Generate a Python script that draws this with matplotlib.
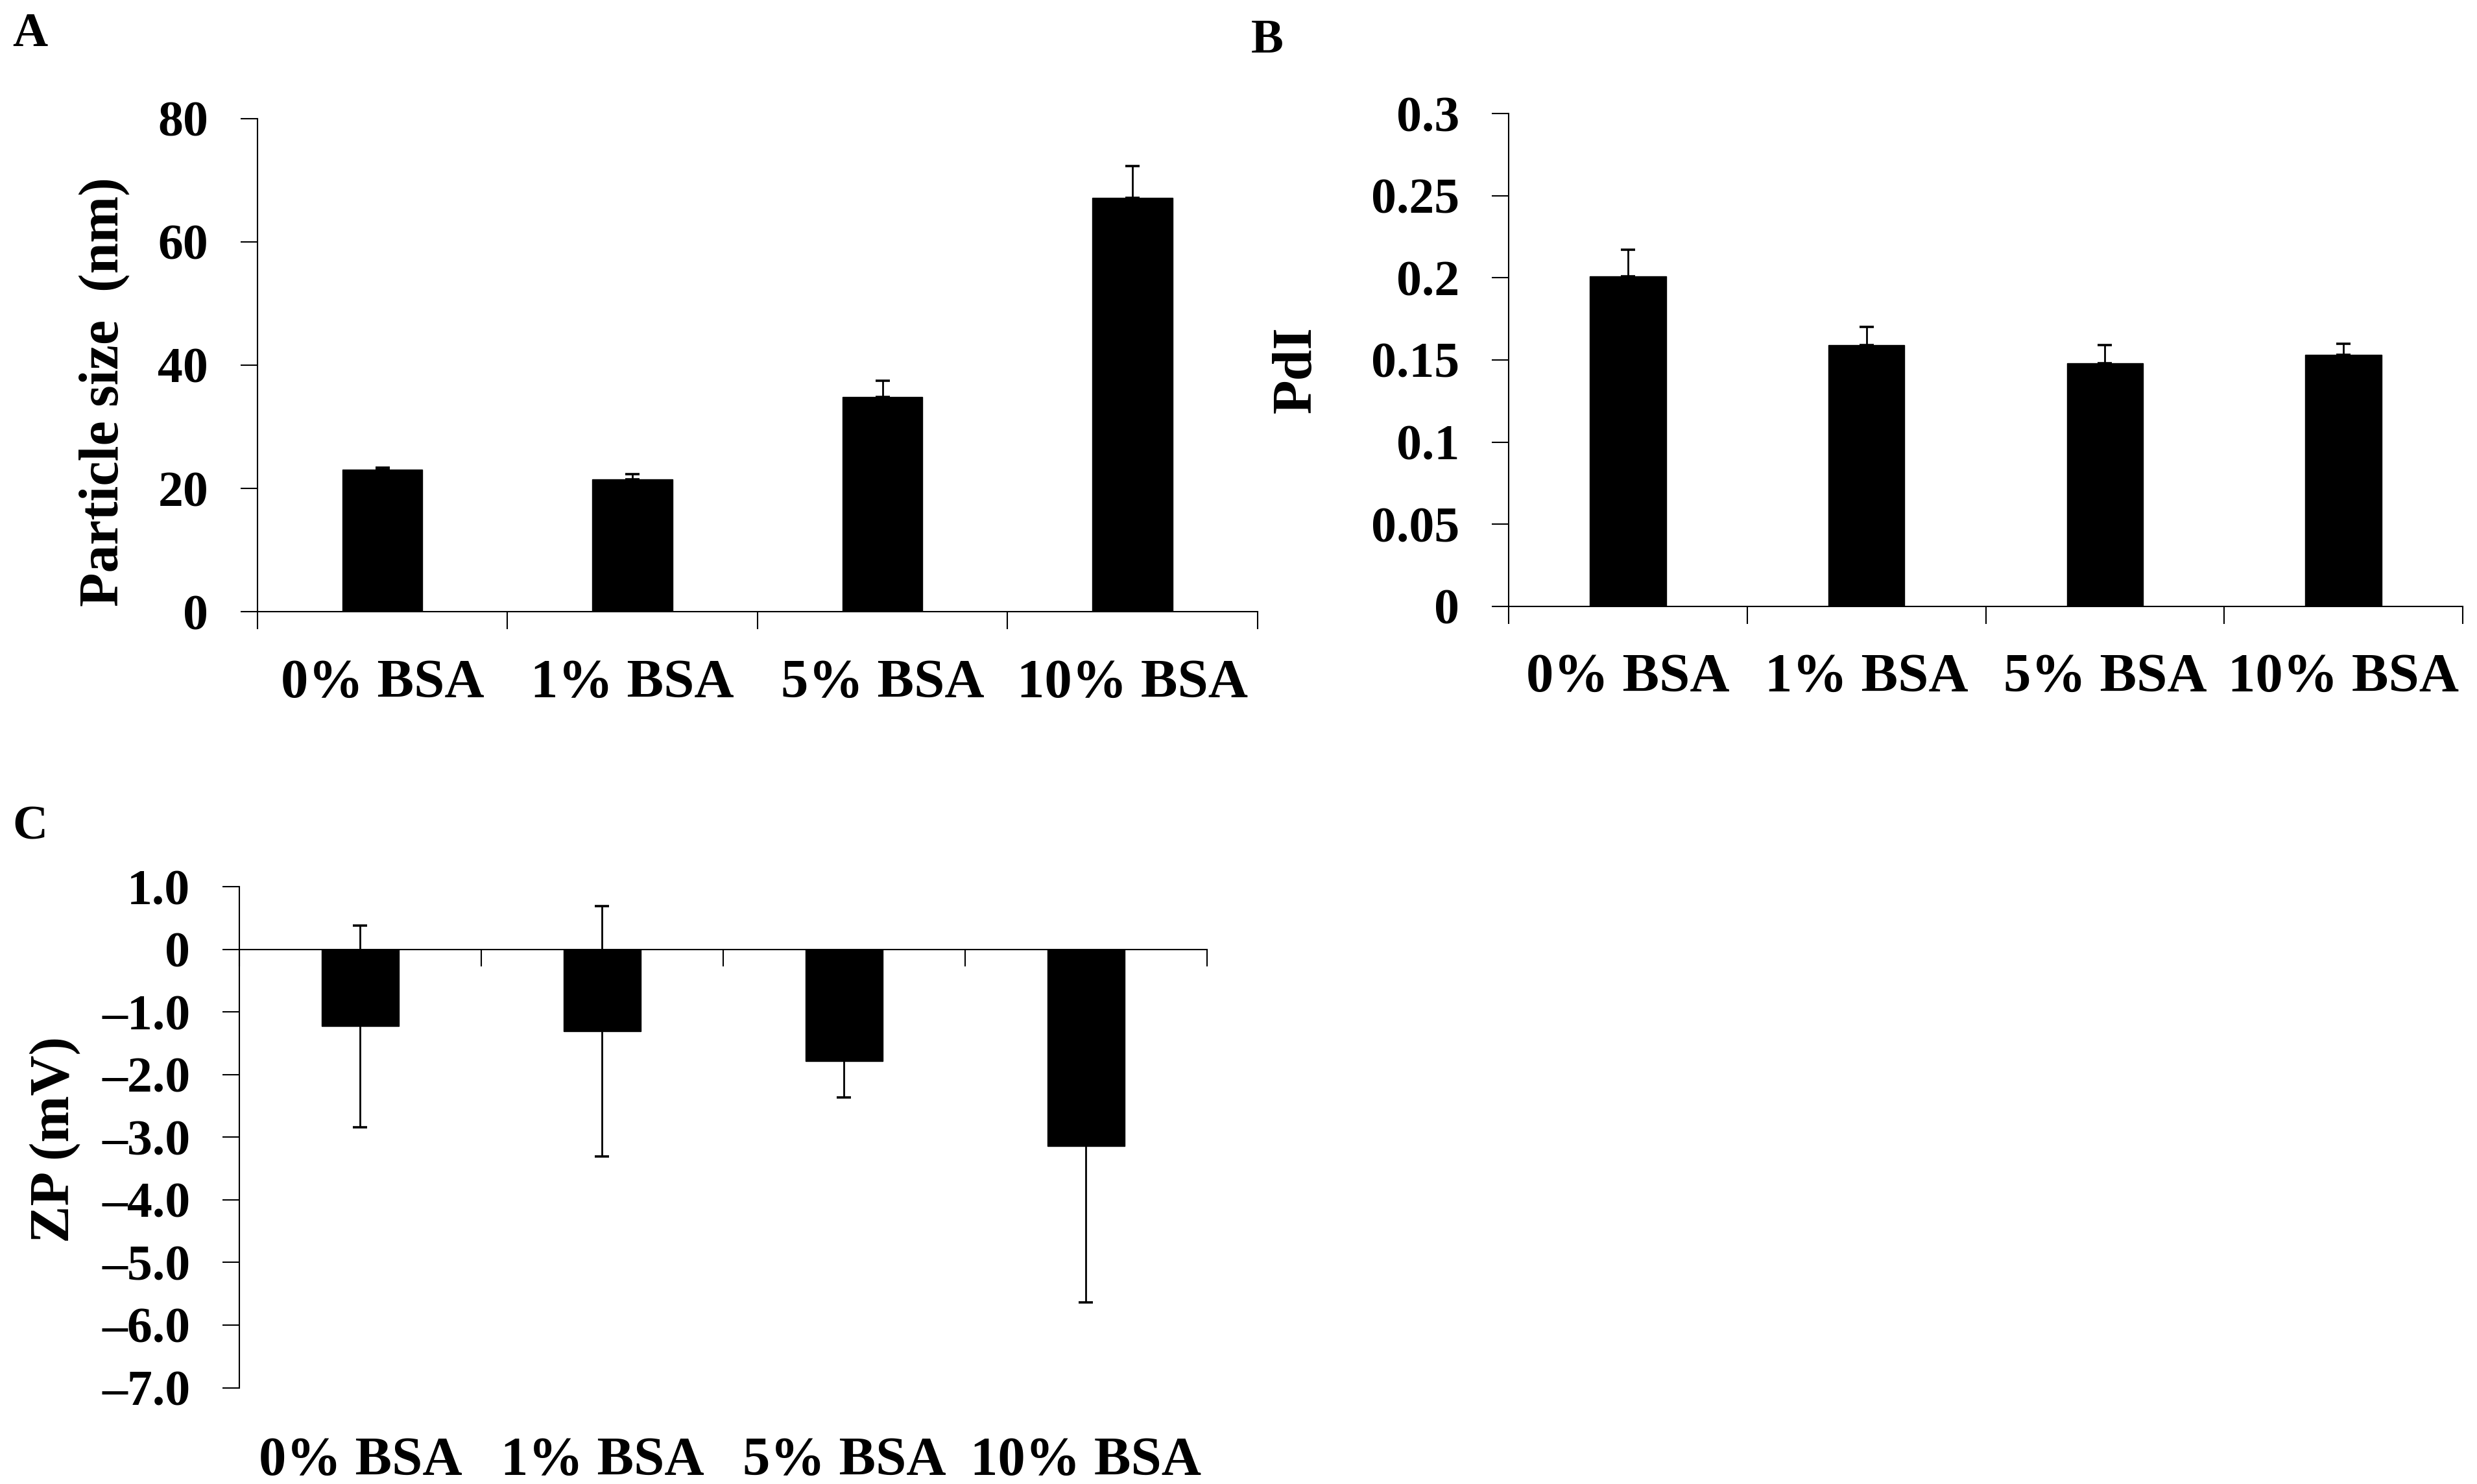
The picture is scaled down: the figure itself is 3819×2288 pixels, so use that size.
import matplotlib
matplotlib.use("Agg")
import matplotlib.pyplot as plt
import numpy as np

plt.rcParams['font.family'] = ['Liberation Serif', 'DejaVu Serif']
plt.rcParams['font.weight'] = 'bold'

categories = ["0% BSA", "1% BSA", "5% BSA", "10% BSA"]

size_vals = [23.1, 21.5, 34.8, 67.1]
size_err = [0.3, 0.8, 2.7, 5.2]

pdi_vals = [0.201, 0.159, 0.148, 0.153]
pdi_err = [0.016, 0.011, 0.011, 0.007]

zp_vals = [-1.23, -1.31, -1.78, -3.14]
zp_err = [1.61, 2.0, 0.58, 2.5]

size_ticks = [0, 20, 40, 60, 80]
size_ticklabels = ["0", "20", "40", "60", "80"]
pdi_ticks = [0, 0.05, 0.1, 0.15, 0.2, 0.25, 0.3]
pdi_ticklabels = ["0", "0.05", "0.1", "0.15", "0.2", "0.25", "0.3"]
zp_ticks = [1, 0, -1, -2, -3, -4, -5, -6, -7]
zp_ticklabels = ["1.0", "0", "\u20131.0", "\u20132.0", "\u20133.0", "\u20134.0",
                 "\u20135.0", "\u20136.0", "\u20137.0"]

W, H = 3819, 2288
DPI = 100
fig = plt.figure(figsize=(W / DPI, H / DPI), dpi=DPI)

TICK_FS = 56
XLAB_FS = 61
YLAB_FS = 62
PANEL_FS = 54
BAR_W = 0.32
LW = 1.5
SX, SY = 1568.0, 940.0


def frac_box(l, t, r, b):
    # coordinates in the 1568x940 preview scale
    return [l / SX, 1 - b / SY, (r - l) / SX, (b - t) / SY]


def style_axes(ax):
    for s in ['top', 'right']:
        ax.spines[s].set_visible(False)
    for s in ['left', 'bottom']:
        ax.spines[s].set_linewidth(LW)
        ax.spines[s].set_color('black')
    ax.tick_params(axis='y', which='major', length=18.5, width=LW, direction='out',
                   labelsize=TICK_FS, pad=36)


def bar_panel(ax, vals, err, ticks, ticklabels, ylim, ylabel_pos, ylabel):
    x = np.arange(len(categories))
    ax.bar(x, vals, width=BAR_W, color='black', edgecolor='black', zorder=2)
    ax.errorbar(x, vals, yerr=[np.zeros(len(err)), err], fmt='none', ecolor='black',
                elinewidth=2.0, capsize=8, capthick=2.6, zorder=3)
    ax.set_xlim(-0.5, len(categories) - 0.5)
    ax.set_ylim(*ylim)
    ax.set_yticks(ticks)
    ax.set_yticklabels(ticklabels, fontweight='bold')
    ax.set_xticks(np.arange(len(categories) + 1) - 0.5)
    ax.set_xticklabels([])
    ax.set_xticks(x, minor=True)
    ax.set_xticklabels(categories, minor=True, fontsize=XLAB_FS, fontweight='bold')
    ax.tick_params(axis='x', which='major', length=19.5, width=LW, direction='out')
    ax.tick_params(axis='x', which='minor', length=0, pad=52)
    style_axes(ax)
    fig.text(ylabel_pos[0] / SX, 1 - ylabel_pos[1] / SY, ylabel, rotation=90,
             ha='center', va='center', fontsize=YLAB_FS, fontweight='bold')


# Panel A
axA = fig.add_axes(frac_box(163, 75, 796, 387.5))
bar_panel(axA, size_vals, size_err, size_ticks, size_ticklabels, (0, 80),
          (66, 248), "Particle size  (nm)")

# Panel B
axB = fig.add_axes(frac_box(955, 72, 1559, 384))
bar_panel(axB, pdi_vals, pdi_err, pdi_ticks, pdi_ticklabels, (0, 0.3),
          (821, 234), "PdI")

# Panel C
axC = fig.add_axes(frac_box(151.5, 561.7, 764, 879))
xc = np.arange(len(categories))
axC.bar(xc, zp_vals, width=BAR_W, color='black', edgecolor='black', zorder=2)
axC.errorbar(xc, zp_vals, yerr=zp_err, fmt='none', ecolor='black',
             elinewidth=2.0, capsize=8, capthick=2.6, zorder=3)
axC.set_xlim(-0.5, len(categories) - 0.5)
axC.set_ylim(-7, 1)
axC.set_yticks(zp_ticks)
axC.set_yticklabels(zp_ticklabels, fontweight='bold')
axC.spines['bottom'].set_position(('data', 0))
axC.set_xticks(np.arange(len(categories) + 1) - 0.5)
axC.set_xticklabels([])
axC.tick_params(axis='x', which='major', length=19, width=LW, direction='out')
style_axes(axC)
for xi, lab in zip(xc, categories):
    axC.text(xi, -0.097, lab, transform=axC.get_xaxis_transform(), ha='center',
             va='top', fontsize=XLAB_FS, fontweight='bold')
fig.text(35 / SX, 1 - 722 / SY, "ZP (mV)", rotation=90, ha='center',
         va='center', fontsize=YLAB_FS, fontweight='bold')

# Panel letters
fig.text(8 / SX, 1 - 8 / SY, "A", ha='left', va='top', fontsize=PANEL_FS,
         fontweight='bold')
fig.text(792 / SX, 1 - 12 / SY, "B", ha='left', va='top', fontsize=PANEL_FS,
         fontweight='bold')
fig.text(8 / SX, 1 - 510 / SY, "C", ha='left', va='top', fontsize=PANEL_FS,
         fontweight='bold')

fig.savefig("out.png", dpi=DPI, facecolor='white')
